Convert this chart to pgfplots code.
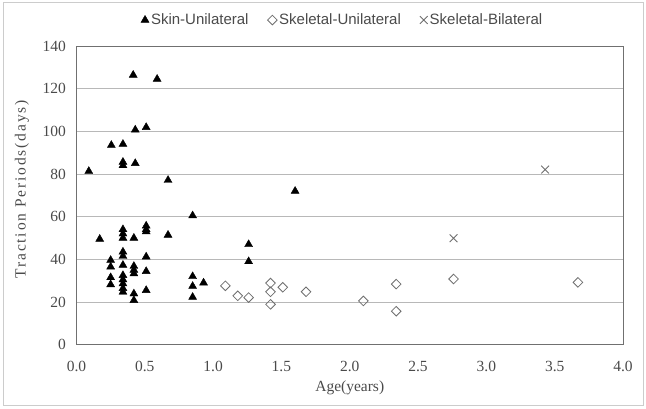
\documentclass[border=0pt]{standalone}
\usepackage{fontspec}
\setmainfont{Liberation Serif}
\newfontfamily\legfont{Liberation Sans}
\newfontfamily\ylabfont[LetterSpace=12]{Liberation Serif}
\usepackage{pgfplots}
\pgfplotsset{compat=1.18}
\definecolor{gridc}{HTML}{B8B8B8}
\definecolor{axc}{HTML}{707070}
\definecolor{mkc}{HTML}{6E6E6E}
\definecolor{txc}{HTML}{4A4A4A}
\begin{document}
\begin{tikzpicture}
\useasboundingbox (0pt,0pt) rectangle (646pt,409pt);
\draw[gray!40, line width=1pt] (3pt,3pt) rectangle (643pt,406pt);
\begin{axis}[
  at={(76.5pt,64.3pt)}, anchor=south west,
  scale only axis, width=546.5pt, height=298.7pt,
  xmin=0, xmax=4, ymin=0, ymax=140,
  xtick={0,0.5,...,4}, ytick={0,20,...,140},
  xticklabels={0.0,0.5,1.0,1.5,2.0,2.5,3.0,3.5,4.0},
  /pgf/number format/assume math mode=true,
  ymajorgrids, grid style={gridc, line width=0.8pt},
  axis line style={axc, line width=0.9pt},
  tick style={draw=none},
  ticklabel style={font=\fontsize{15.5}{18}\selectfont, text=txc},
  yticklabel style={xshift=-7pt},
  xticklabel style={yshift=-13pt},
  xlabel={Age(years)}, ylabel={\ylabfont Traction Periods(days)},
  xlabel style={font=\fontsize{15.5}{18}\selectfont, text=txc, at={(axis description cs:0.5,-0.145)}, anchor=center},
  ylabel style={font=\fontsize{15.5}{18}\selectfont, text=txc, at={(axis description cs:-0.1,0.52)}, anchor=center},
  legend columns=3,
  legend style={at={(axis description cs:0.487,1.087)}, anchor=center, draw=none, fill=none,
    font=\legfont\fontsize{15}{17}\selectfont, text=txc,
    /tikz/every even column/.append style={column sep=17pt},
    inner sep=0pt},
  legend image code/.code={\draw[#1] plot coordinates {(0.1cm,0cm)};},
  clip=false,
]
\addplot[only marks, mark=triangle*, mark size=4.6pt, black, mark options={fill=black}] coordinates {
(0.09,81.3) (0.17,49.5)
(0.255,93.5) (0.34,94) (0.34,85.6) (0.34,84) (0.43,85)
(0.415,126.4) (0.59,124.5) (0.43,100.7) (0.51,101.9)
(0.67,77.1) (0.67,51.4) (0.85,60.5)
(0.34,54) (0.34,52) (0.34,50) (0.42,50)
(0.51,55.7) (0.51,54) (0.51,53)
(0.34,43.5) (0.34,41.5) (0.34,37.3) (0.34,32.5) (0.34,30.5) (0.34,28.6) (0.34,26.4) (0.34,24.7)
(0.25,39.6) (0.25,36.5) (0.25,31.5) (0.25,28.2)
(0.42,36.8) (0.42,35) (0.42,33.3) (0.42,23.9) (0.42,20.8)
(0.51,41.2) (0.51,34.4) (0.51,25.5)
(0.85,32) (0.85,27.4) (0.85,22.3) (0.93,29)
(1.26,47) (1.26,39) (1.60,72)
};
\addlegendentry{Skin-Unilateral}
\addplot[only marks, mark=square, mark size=3.4pt, mkc, mark options={rotate=45, line width=0.8pt}] coordinates {
(1.09,27.6) (1.18,22.9) (1.26,22.1) (1.42,28.9) (1.42,24.8) (1.42,18.9) (1.51,26.9)
(1.68,24.8) (2.10,20.5) (2.34,28.4) (2.34,15.7) (2.76,30.8) (3.67,29.2)
};
\addlegendentry{Skeletal-Unilateral}
\addplot[only marks, mark=x, mark size=5.5pt, mkc, mark options={line width=0.9pt}] coordinates {
(2.76,49.9) (3.43,82.1)
};
\addlegendentry{Skeletal-Bilateral}
\end{axis}
\end{tikzpicture}
\end{document}
